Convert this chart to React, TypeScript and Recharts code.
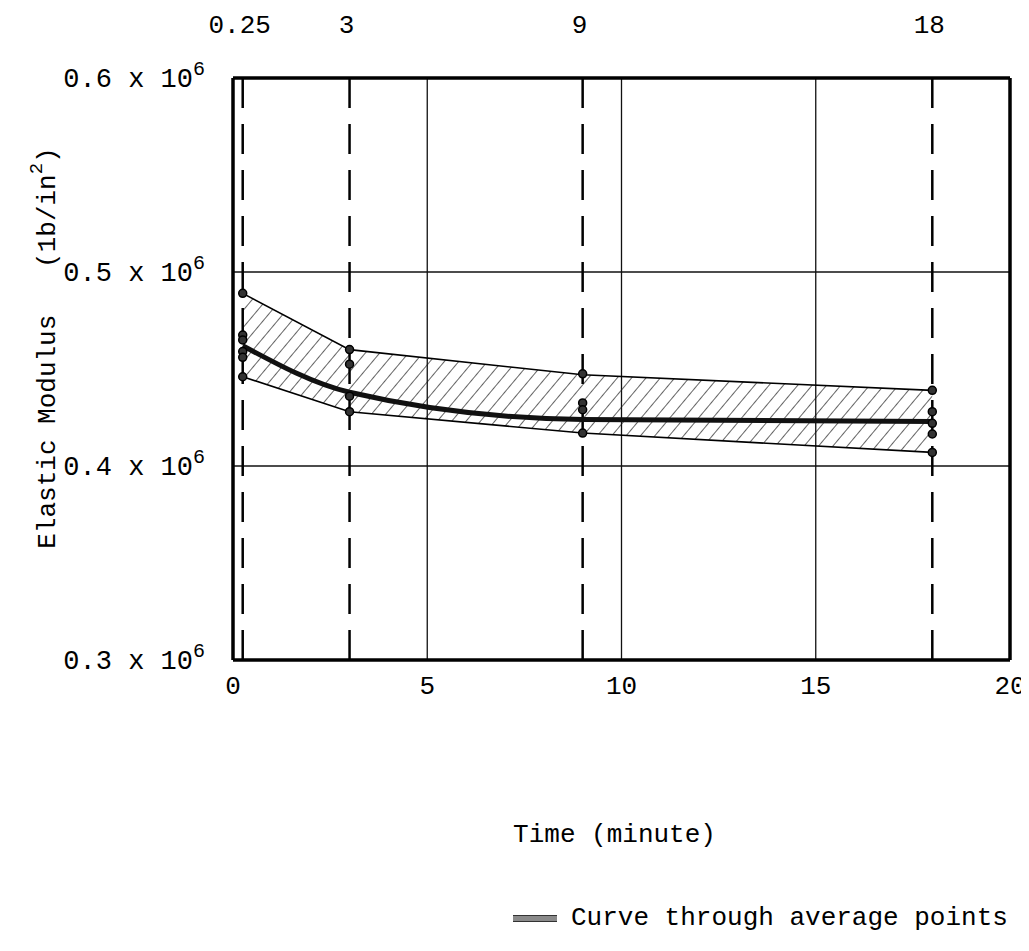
import React from "react";
import {
  ComposedChart,
  Area,
  Line,
  Scatter,
  XAxis,
  YAxis,
  CartesianGrid,
  ReferenceLine,
} from "recharts";

const FONT = '"Liberation Mono", "DejaVu Sans Mono", monospace';

// test times (minutes)
const times = [0.25, 3, 9, 18];
// envelope of measured values (x 10^6 lb/in^2)
const upper = [0.489, 0.46, 0.447, 0.439];
const lower = [0.446, 0.428, 0.417, 0.407];
const average = [0.462, 0.438, 0.424, 0.423];

// individual measurements per time
const samples025 = [0.489, 0.4675, 0.465, 0.459, 0.456, 0.446];
const samples3 = [0.46, 0.4525, 0.436, 0.428];
const samples9 = [0.4475, 0.4325, 0.429, 0.417];
const samples18 = [0.439, 0.428, 0.422, 0.4165, 0.407];

const xTicks = [0, 5, 10, 15, 20];
const yTicks = [0.3, 0.4, 0.5, 0.6];

const data = times.map((t, i) => ({ t, band: [lower[i], upper[i]], avg: average[i] }));

const samples = [
  ...samples025.map((v) => ({ t: times[0], v })),
  ...samples3.map((v) => ({ t: times[1], v })),
  ...samples9.map((v) => ({ t: times[2], v })),
  ...samples18.map((v) => ({ t: times[3], v })),
];

const YTick = ({ x, y, payload }: any) => (
  <text x={x - 28} y={y + 9} textAnchor="end" fontFamily={FONT} fontSize={27} fill="#000">
    {Number(payload.value).toFixed(1)} x 10
    <tspan dy={-12} fontSize={20}>6</tspan>
  </text>
);

const BottomTick = ({ x, y, payload }: any) => (
  <text x={x} y={y + 34} textAnchor="middle" fontFamily={FONT} fontSize={26} fill="#000">
    {payload.value}
  </text>
);

const TopTick = ({ x, y, payload }: any) => (
  <text x={x - 3} y={y - 45} textAnchor="middle" fontFamily={FONT} fontSize={26} fill="#000">
    {payload.value}
  </text>
);

const YLabel = ({ viewBox }: any) => {
  const cx = viewBox.x + 40;
  const cy = viewBox.y + viewBox.height / 2 - 21;
  return (
    <text
      x={cx}
      y={cy}
      transform={`rotate(-90, ${cx}, ${cy})`}
      textAnchor="middle"
      dominantBaseline="central"
      fontFamily={FONT}
      fontSize={26}
      fill="#000"
      style={{ whiteSpace: "pre" }}
    >
      {"Elastic Modulus   (1b/in"}
      <tspan dy={-11} fontSize={19}>2</tspan>
      <tspan dy={11}>)</tspan>
    </text>
  );
};

const XLabel = ({ viewBox }: any) => (
  <text
    x={viewBox.x + viewBox.width / 2 - 7}
    y={viewBox.y + 182}
    textAnchor="middle"
    fontFamily={FONT}
    fontSize={26}
    fill="#000"
  >
    Time (minute)
  </text>
);

const Dot = ({ cx, cy }: any) => <circle cx={cx} cy={cy} r={4} fill="#333" stroke="#000" strokeWidth={1.5} />;

export default function App() {
  return (
    <div style={{ position: "relative", width: 1021, height: 925, background: "#fff" }}>
      <ComposedChart
        width={1021}
        height={925}
        data={data}
        margin={{ top: 30, right: 19, bottom: 233, left: 0 }}
        style={{ overflow: "visible" }}
      >
        <defs>
          <pattern id="hatch" width="11" height="11" patternUnits="userSpaceOnUse" patternTransform="rotate(40)">
            <line x1="0" y1="0" x2="0" y2="11" stroke="#111" strokeWidth="1.3" />
          </pattern>
        </defs>
        <CartesianGrid stroke="#111" strokeWidth={1.3} />
        <XAxis
          dataKey="t"
          type="number"
          domain={[0, 20]}
          ticks={xTicks}
          allowDataOverflow
          height={40}
          tickSize={0}
          tickMargin={0}
          tick={<BottomTick />}
          axisLine={{ stroke: "#000", strokeWidth: 3.5 }}
          label={<XLabel />}
        />
        <XAxis
          xAxisId="top"
          orientation="top"
          dataKey="t"
          type="number"
          domain={[0, 20]}
          ticks={times}
          height={40}
          tickSize={0}
          tickMargin={0}
          tick={<TopTick />}
          axisLine={false}
          tickLine={false}
        />
        <YAxis
          type="number"
          domain={[0.3, 0.6]}
          ticks={yTicks}
          width={225}
          tickSize={0}
          tickMargin={0}
          tick={<YTick />}
          axisLine={{ stroke: "#000", strokeWidth: 3.5 }}
          label={<YLabel />}
        />
        <ReferenceLine y={0.6} stroke="#000" strokeWidth={3.5} />
        <ReferenceLine x={20} stroke="#000" strokeWidth={3.5} />
        {times.map((t) => (
          <ReferenceLine key={t} x={t} stroke="#000" strokeWidth={2.5} strokeDasharray="30 16" />
        ))}
        <Area
          dataKey="band"
          type="linear"
          stroke="#000"
          strokeWidth={1.6}
          fill="url(#hatch)"
          fillOpacity={1}
          isAnimationActive={false}
          dot={false}
          activeDot={false}
        />
        <Line
          dataKey="avg"
          type="monotone"
          stroke="#111"
          strokeWidth={5}
          dot={false}
          activeDot={false}
          isAnimationActive={false}
        />
        <Scatter data={samples} dataKey="v" shape={<Dot />} isAnimationActive={false} />
      </ComposedChart>
      <div
        style={{
          position: "absolute",
          left: 505,
          top: 895,
          display: "flex",
          alignItems: "center",
          fontFamily: FONT,
          fontSize: 26,
          color: "#000",
          whiteSpace: "pre",
        }}
      >
        <div
          style={{
            width: 44,
            height: 5,
            background: "#8a8a8a",
            borderTop: "1px solid #333",
            borderBottom: "1px solid #333",
            marginRight: 14,
          }}
        />
        <span>Curve through average points</span>
      </div>
    </div>
  );
}
